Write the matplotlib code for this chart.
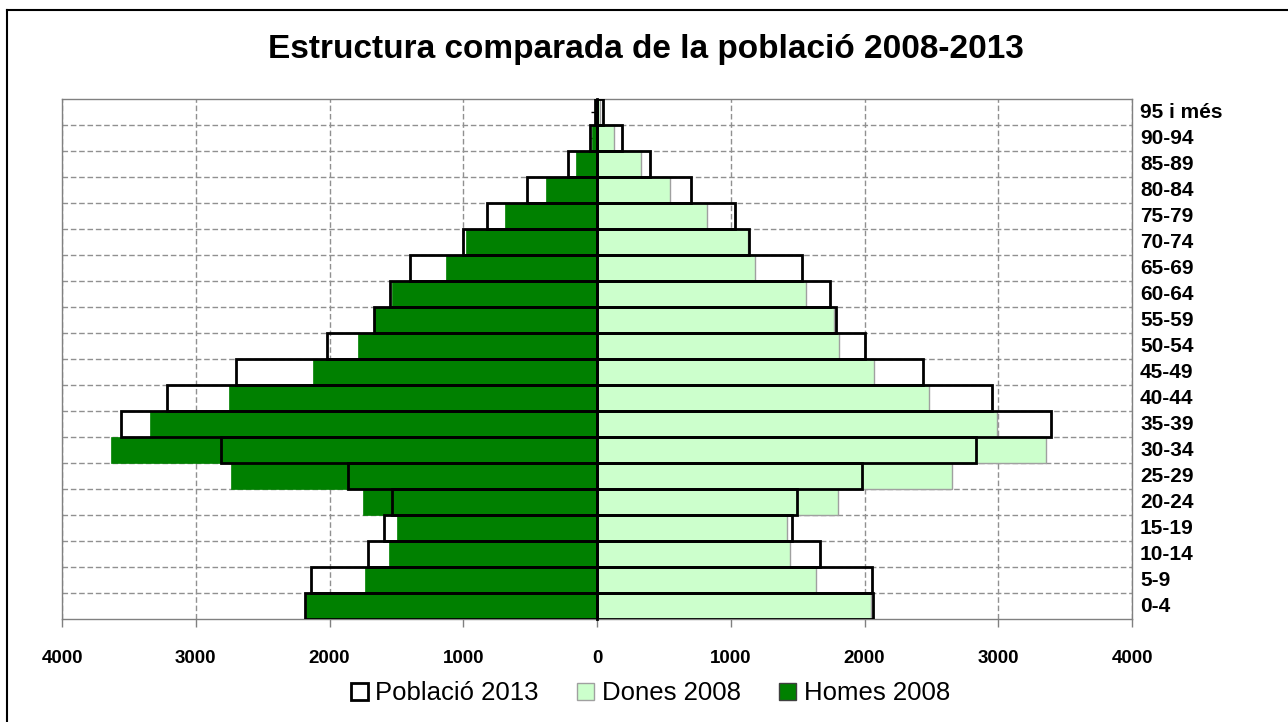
import numpy as np
import matplotlib
matplotlib.use("Agg")
import matplotlib.pyplot as plt
from matplotlib.patches import Patch
from matplotlib.lines import Line2D
from matplotlib.ticker import FuncFormatter

plt.rcParams['font.family'] = ['Liberation Sans', 'DejaVu Sans']

# age groups, bottom to top
edats = ['0-4', '5-9', '10-14', '15-19', '20-24', '25-29', '30-34', '35-39',
         '40-44', '45-49', '50-54', '55-59', '60-64', '65-69', '70-74',
         '75-79', '80-84', '85-89', '90-94', '95 i més']

homes_2008 = [2175, 1735, 1558, 1495, 1750, 2735, 3630, 3340, 2755, 2120,
              1790, 1665, 1530, 1130, 980, 690, 380, 160, 35, 10]
homes_2013 = [2185, 2140, 1710, 1595, 1530, 1865, 2810, 3560, 3215, 2700,
              2015, 1670, 1545, 1395, 1000, 820, 520, 215, 55, 15]
dones_2008 = [2045, 1640, 1440, 1420, 1800, 2655, 3360, 2990, 2480, 2070,
              1810, 1770, 1560, 1185, 1130, 820, 545, 330, 130, 25]
dones_2013 = [2060, 2055, 1665, 1455, 1495, 1985, 2830, 3395, 2950, 2435,
              2005, 1785, 1745, 1530, 1140, 1035, 700, 395, 185, 45]

verd_fosc = '#008000'
verd_clar = '#ccffcc'

fig = plt.figure(figsize=(12.88, 7.22), dpi=100)
ax = fig.add_axes([62/1288, 1 - 619/722, 1070/1288, 520/722])

y = np.arange(len(edats))
ax.barh(y, -np.array(homes_2008), height=1.0, color=verd_fosc, edgecolor=verd_fosc, linewidth=0.5, zorder=2)
ax.barh(y, dones_2008, height=1.0, color=verd_clar, edgecolor='#a0a0a0', linewidth=1.0, zorder=2)
ax.barh(y, -np.array(homes_2013), height=1.0, fill=False, edgecolor='black', linewidth=2.0, zorder=3)
ax.barh(y, dones_2013, height=1.0, fill=False, edgecolor='black', linewidth=2.0, zorder=3)

ax.set_xlim(-4000, 4000)
ax.set_ylim(-0.5, len(edats) - 0.5)

# x axis
ax.set_xticks(np.arange(-4000, 4001, 1000))
ax.xaxis.set_major_formatter(FuncFormatter(lambda v, p: '%d' % abs(v)))
ax.tick_params(axis='x', direction='out', length=6, width=1, color='#808080',
               pad=16, labelsize=13.5)
for lab in ax.get_xticklabels():
    lab.set_fontweight('bold')
ax.grid(axis='x', which='major', color='#909090', linestyle=(0, (4, 2)), linewidth=1)

# row boundaries
ax.set_yticks(np.arange(len(edats) - 1) + 0.5, minor=True)
ax.grid(axis='y', which='minor', color='#909090', linestyle=(0, (4, 2)), linewidth=1)
ax.set_axisbelow(True)

# vertical axis at zero
ax.set_yticks(y)
ax.set_yticklabels([])
ax.spines['left'].set_position(('data', 0))
ax.spines['left'].set_color('black')
ax.spines['left'].set_linewidth(2)
ax.spines['left'].set_zorder(4)
ax.tick_params(axis='y', which='major', direction='out', length=4, width=1, color='black')
ax.tick_params(axis='y', which='minor', length=0)
for s in ['top', 'right', 'bottom']:
    ax.spines[s].set_color('#808080')
    ax.spines[s].set_linewidth(1)

# frame on the left side of the plot area
ax.add_line(Line2D([0, 0], [0, 1], transform=ax.transAxes, color='#808080',
                   linewidth=1, zorder=1, clip_on=False))

# category labels on the right
trans = ax.get_yaxis_transform()
for yi, e in zip(y, edats):
    ax.text(1.0075, yi, e, transform=trans, ha='left', va='center',
            fontsize=15, fontweight='bold')

fig.text(0.5016, 0.932, 'Estructura comparada de la població 2008-2013',
         ha='center', va='center', fontsize=24, fontweight='bold')

handles = [Patch(facecolor='white', edgecolor='black', linewidth=2),
           Patch(facecolor=verd_clar, edgecolor='#a0a0a0', linewidth=1),
           Patch(facecolor=verd_fosc, edgecolor='#404040', linewidth=1)]
fig.legend(handles, ['Població 2013', 'Dones 2008', 'Homes 2008'],
           loc='center', bbox_to_anchor=(0.505, 0.04), ncol=3, frameon=False,
           fontsize=18.5, handlelength=0.65, handleheight=0.65, handletextpad=0.3,
           columnspacing=1.5)

# outer chart border (top and left)
fig.add_artist(Line2D([7/1288, 1], [1 - 10/722, 1 - 10/722], color='black', linewidth=1.5))
fig.add_artist(Line2D([7/1288, 7/1288], [0, 1 - 10/722], color='black', linewidth=1.5))

fig.savefig('out.png', dpi=100)
